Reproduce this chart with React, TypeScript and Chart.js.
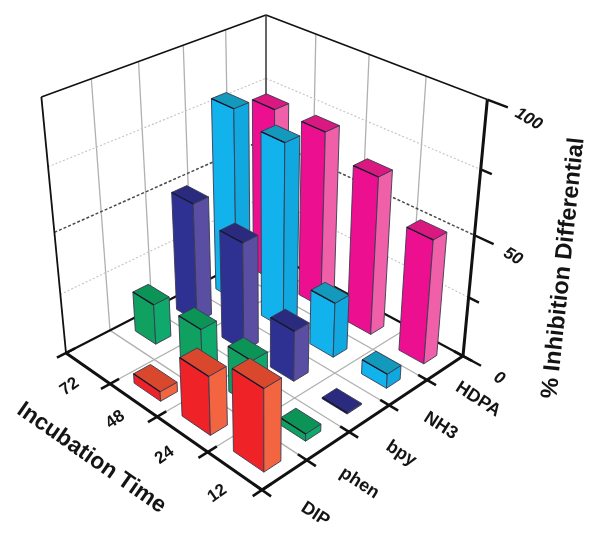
import React, { useEffect, useRef } from "react";
import { Chart, registerables } from "chart.js";

Chart.register(...registerables);

// ---- data ----
const times = ["72", "48", "24", "12"];
const compounds = ["HDPA", "NH3", "bpy", "phen", "DIP"];
const hdpa = [73, 73, 65, 51];
const nh3 = [80, 76, 23, 6];
const bpy = [50, 45, 21, 0.5];
const phen = [17, 19, 19, 3];
const dip = [null, 4, 24, 33];
const zTicks = [0, 25, 50, 75, 100];
const zLabels = [0, 50, 100];
const seriesByCompound = [hdpa, nh3, bpy, phen, dip];

// ---- style ----
const palette = [
  { left: "#EC1090", right: "#F060A8", top: "#D9197F", cellU: 0.46, cellV: 0.36 },
  { left: "#12B2EC", right: "#10A8DE", top: "#1299BC", cellU: 0.46, cellV: 0.36 },
  { left: "#2E3192", right: "#5A4EA2", top: "#2A2A7E", cellU: 0.46, cellV: 0.36 },
  { left: "#10A060", right: "#0FA96C", top: "#0C9457", cellU: 0.46, cellV: 0.36 },
  { left: "#EF2228", right: "#F36440", top: "#D9472C", cellU: 0.56, cellV: 0.38 },
];
const FONT = '"Liberation Sans", Arial, sans-serif';

// ---- camera: the box's seen corners in canvas pixels ----
type P = [number, number];
const B: P = [266, 250];
const R: P = [463, 356];
const L: P = [66, 353];
const F: P = [262, 490];
const TB: P = [266, 15];
const VANISH_Y = 2432;

function makeProjector() {
  const a1 = R[0] - F[0], b1 = L[0] - F[0], c1 = B[0] - F[0];
  const a2 = R[1] - F[1], b2 = L[1] - F[1], c2 = B[1] - F[1];
  const det = a1 * b2 - a2 * b1;
  const alpha = (c1 * b2 - c2 * b1) / det;
  const beta = (a1 * c2 - a2 * c1) / det;
  const gamma = (VANISH_Y - B[1]) / (VANISH_Y - TB[1]);
  return (u: number, v: number, w: number): P => {
    const d = 1 + u * (alpha - 1) + v * (beta - 1) + w * (gamma - 1);
    const x = B[0] + u * (alpha * R[0] - B[0]) + v * (beta * L[0] - B[0]) + w * (gamma * TB[0] - B[0]);
    const y = B[1] + u * (alpha * R[1] - B[1]) + v * (beta * L[1] - B[1]) + w * (gamma * TB[1] - B[1]);
    return [x / d, y / d];
  };
}

const box3d = {
  id: "box3d",
  afterDatasetsDraw(chart: any) {
    const { ctx, scales } = chart;
    const sx = scales.x, sc = scales.c, sy = scales.y;
    const nu = times.length, nv = compounds.length;
    const uOf = (i: number) => (sx.getPixelForValue(i) - sx.left) / sx.width;
    const vOf = (i: number) => (sc.getPixelForValue(i) - sc.left) / sc.width;
    const wOf = (z: number) => (sy.bottom - sy.getPixelForValue(z)) / sy.height;
    const proj = makeProjector();

    const line = (a: P, b: P, color: string, width: number, dash: number[] = []) => {
      ctx.save();
      ctx.strokeStyle = color;
      ctx.lineWidth = width;
      ctx.setLineDash(dash);
      ctx.lineCap = "butt";
      ctx.beginPath();
      ctx.moveTo(a[0], a[1]);
      ctx.lineTo(b[0], b[1]);
      ctx.stroke();
      ctx.restore();
    };
    const poly = (pts: P[], fill: string, stroke: string) => {
      ctx.beginPath();
      pts.forEach((p, i) => (i ? ctx.lineTo(p[0], p[1]) : ctx.moveTo(p[0], p[1])));
      ctx.closePath();
      ctx.fillStyle = fill;
      ctx.fill();
      ctx.lineJoin = "round";
      ctx.lineWidth = 0.9;
      ctx.strokeStyle = stroke;
      ctx.stroke();
    };
    const text = (s: string, p: P, deg: number, font: string) => {
      ctx.save();
      ctx.translate(p[0], p[1]);
      ctx.rotate((deg * Math.PI) / 180);
      ctx.font = font;
      ctx.fillStyle = "#141414";
      ctx.textAlign = "center";
      ctx.textBaseline = "middle";
      ctx.fillText(s, 0, 0);
      ctx.restore();
    };

    // wall grid
    const grey = "#b0b0b0";
    for (let i = 1; i < nv; i++) {
      const v = vOf(i - 0.5);
      line(proj(0, v, 0), proj(0, v, 1), grey, 1.3);
      line(proj(0, v, 0), proj(1, v, 0), grey, 1.3);
    }
    for (let i = 1; i < nu; i++) {
      const u = uOf(i - 0.5);
      line(proj(u, 0, 0), proj(u, 0, 1), grey, 1.3);
      line(proj(u, 0, 0), proj(u, 1, 0), grey, 1.3);
    }
    zTicks.slice(1, -1).forEach((z) => {
      const w = wOf(z);
      const mid = z === 50;
      const col = mid ? "#4a4a4a" : "#c4c4c4";
      const dash = mid ? [3, 2] : [2, 2];
      const lw = mid ? 1.5 : 1.1;
      line(proj(0, 1, w), proj(0, 0, w), col, lw, dash);
      line(proj(0, 0, w), proj(1, 0, w), col, lw, dash);
    });

    // box frame
    const K = "#111111";
    line(proj(0, 1, 1), proj(0, 0, 1), K, 1.6);
    line(proj(0, 0, 1), proj(1, 0, 1), K, 1.6);
    line(proj(0, 0, 0), proj(0, 0, 1), "#333", 1.5);
    line(proj(0, 1, 0), proj(0, 1, 1), K, 1.8);
    line(proj(0, 1, 0), proj(0, 0, 0), K, 2.2);
    line(proj(1, 0, 0), proj(0, 0, 0), K, 2.2);

    // bars, back to front
    for (let c = 0; c < nv; c++) {
      const col = palette[c];
      const hu = (col.cellU / 2) * (uOf(1) - uOf(0));
      const hv = (col.cellV / 2) * (vOf(1) - vOf(0));
      for (let t = 0; t < nu; t++) {
        const val = seriesByCompound[c][t];
        if (val === null) continue;
        const u = uOf(t), v = vOf(c), w = wOf(val);
        const a = proj(u - hu, v + hv, 0), b = proj(u + hu, v + hv, 0), d = proj(u + hu, v - hv, 0);
        const a2 = proj(u - hu, v + hv, w), b2 = proj(u + hu, v + hv, w), d2 = proj(u + hu, v - hv, w);
        const e2 = proj(u - hu, v - hv, w);
        const edge = "#3a3a50";
        poly([a, b, b2, a2], col.left, edge);
        poly([b, d, d2, b2], col.right, edge);
        poly([a2, b2, d2, e2], col.top, edge);
        line(a2, b2, "#15152a", 1.3);
      }
    }

    // front axes and right-hand value axis
    line(proj(0, 1, 0), proj(1, 1, 0), K, 3);
    line(proj(1, 1, 0), proj(1, 0, 0), K, 3);
    line(proj(1, 0, 0), proj(1, 0, 1), K, 3);
    for (let i = 0; i <= nu; i++) {
      const u = uOf(i - 0.5);
      line(proj(u, 0.96, 0), proj(u, 1.04, 0), K, 2.6);
    }
    for (let i = 0; i <= nv; i++) {
      const v = vOf(i - 0.5);
      line(proj(0.96, v, 0), proj(1.04, v, 0), K, 2.6);
    }
    zTicks.forEach((z) => {
      const major = zLabels.includes(z);
      line(proj(1, 0, wOf(z)), proj(major ? 1.08 : 1.045, 0, wOf(z)), K, 2.4);
    });

    // tick labels
    times.forEach((s, i) => text(s, proj(uOf(i) + 0.04, 1.11, 0), -35, `bold 17px ${FONT}`));
    compounds.forEach((s, i) => text(s, proj(1.19, vOf(i) + 0.06, 0), 33, `bold 18px ${FONT}`));
    zLabels.forEach((z) => text(String(z), proj(1.16, 0, wOf(z) - 0.012), 30, `italic bold 17px ${FONT}`));

    // axis titles
    text("% Inhibition Differential", [563.5, 268], -84, `bold 23.5px ${FONT}`);
    text("Incubation Time", [91.5, 458], 35, `bold 23px ${FONT}`);
  },
};

export default function App() {
  const ref = useRef<HTMLCanvasElement>(null);
  useEffect(() => {
    const chart = new Chart(ref.current!, {
      type: "bar",
      data: {
        labels: times,
        datasets: compounds.map((name, i) => ({
          label: name,
          data: seriesByCompound[i],
          backgroundColor: "rgba(0,0,0,0)",
          borderWidth: 0,
        })),
      },
      options: {
        animation: false,
        responsive: false,
        events: [],
        layout: { padding: 0 },
        plugins: { legend: { display: false }, tooltip: { enabled: false }, title: { display: false } },
        scales: {
          x: { type: "category", display: false, offset: true },
          c: { type: "category", axis: "x", labels: compounds, display: false, offset: true },
          y: { type: "linear", display: false, min: 0, max: 100 },
        },
      },
      plugins: [box3d],
    } as any);
    return () => chart.destroy();
  }, []);
  return (
    <div style={{ position: "fixed", left: 0, top: 0, width: 600, height: 533, background: "#fff" }}>
      <canvas ref={ref} width={600} height={533} style={{ display: "block", filter: "blur(0.4px)" }} />
    </div>
  );
}
